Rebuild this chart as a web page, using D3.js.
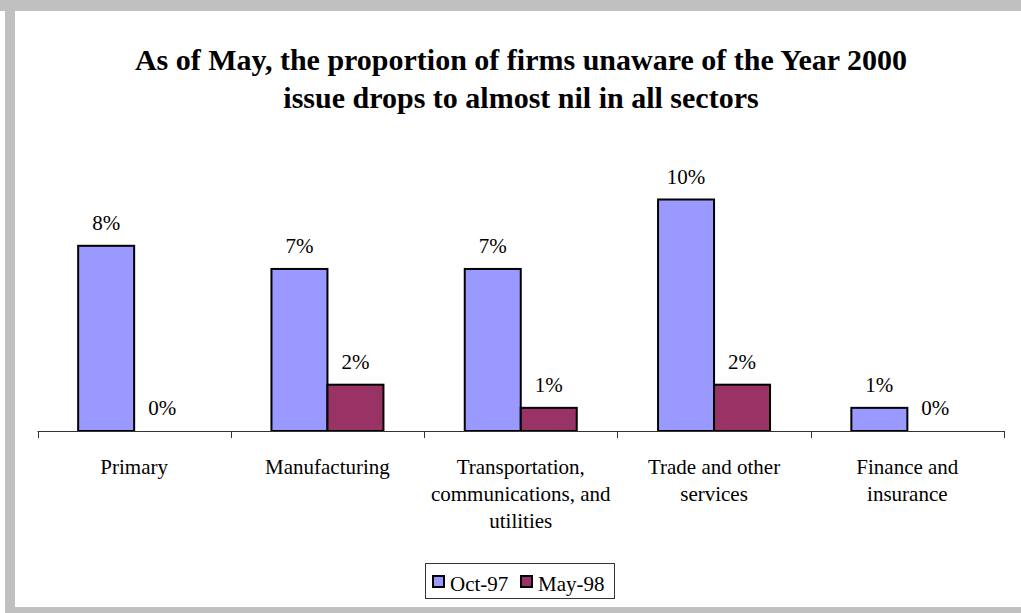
<!DOCTYPE html>
<html>
<head>
<meta charset="utf-8">
<script src="https://cdn.jsdelivr.net/npm/d3@7/dist/d3.min.js"></script>
<style>
  html, body { margin: 0; padding: 0; background: #ffffff; }
  svg { display: block; }
  text { font-family: "Liberation Serif", "Times New Roman", Times, serif; fill: #000; }
</style>
</head>
<body>
<svg id="chart" width="1021" height="613"></svg>
<script>
// Sectors and survey values (% of firms unaware of the Year 2000 issue)
const categories = [
  ["Primary"],
  ["Manufacturing"],
  ["Transportation,", "communications, and", "utilities"],
  ["Trade and other", "services"],
  ["Finance and", "insurance"]
];
const seriesNames = ["Oct-97", "May-98"];
const oct97 = [8, 7, 7, 10, 1];
const may98 = [0, 2, 1, 2, 0];
const seriesColors = ["#9999ff", "#993366"];
const titleLines = [
  "As of May, the proportion of firms unaware of the Year 2000",
  "issue drops to almost nil in all sectors"
];

const W = 1021, H = 613;
const svg = d3.select("#chart");

// grey frame around the chart area
svg.append("rect").attr("x", 0).attr("y", 0).attr("width", W).attr("height", 11).attr("fill", "#c0c0c0");
svg.append("rect").attr("x", 5).attr("y", 0).attr("width", 10).attr("height", H).attr("fill", "#c0c0c0");
svg.append("rect").attr("x", 5).attr("y", 607).attr("width", W - 5).attr("height", 6).attr("fill", "#c0c0c0");

// title
svg.append("g").selectAll("text").data(titleLines).join("text")
  .attr("x", 521)
  .attr("y", (d, i) => 70 + i * 38)
  .attr("text-anchor", "middle")
  .attr("font-weight", "bold")
  .attr("font-size", 30)
  .text(d => d);

// scales
const idx = d3.range(categories.length);
const x0 = d3.scaleBand().domain(idx).range([37.5, 1004]).paddingInner(0).paddingOuter(0);
const x1 = d3.scaleBand().domain(seriesNames).range([0, x0.bandwidth()]).paddingInner(0).paddingOuter(0.726);
const y = d3.scaleLinear().domain([0, 12]).range([431, 431 - 12 * 23.15]);

const rows = idx.map(i => ({ i, values: [oct97[i], may98[i]] }));

// bars
const groups = svg.append("g").selectAll("g").data(rows).join("g")
  .attr("transform", d => `translate(${x0(d.i)},0)`);

groups.selectAll("rect")
  .data(d => d.values.map((v, s) => ({ v, s })).filter(e => e.v > 0))
  .join("rect")
  .attr("x", e => x1(seriesNames[e.s]))
  .attr("y", e => y(e.v))
  .attr("width", x1.bandwidth())
  .attr("height", e => y(0) - y(e.v))
  .attr("fill", e => seriesColors[e.s])
  .attr("stroke", "#000")
  .attr("stroke-width", 2);

// value labels
groups.selectAll("text.val")
  .data(d => d.values.map((v, s) => ({ v, s })))
  .join("text")
  .attr("class", "val")
  .attr("x", e => x1(seriesNames[e.s]) + x1.bandwidth() / 2)
  .attr("y", e => y(e.v) - 16)
  .attr("text-anchor", "middle")
  .attr("font-size", 21)
  .text(e => e.v + "%");

// category axis with ticks at band boundaries
const axisG = svg.append("g");
axisG.append("line")
  .attr("x1", x0.range()[0]).attr("x2", x0.range()[1])
  .attr("y1", y(0) + 0.5).attr("y2", y(0) + 0.5)
  .attr("stroke", "#333").attr("stroke-width", 1);
const bounds = idx.map(i => x0(i)).concat([x0.range()[1]]);
axisG.selectAll("line.tick").data(bounds).join("line")
  .attr("class", "tick")
  .attr("x1", d => Math.round(d) + 0.5).attr("x2", d => Math.round(d) + 0.5)
  .attr("y1", y(0)).attr("y2", y(0) + 7)
  .attr("stroke", "#333").attr("stroke-width", 1);

axisG.selectAll("text.cat").data(idx).join("text")
  .attr("class", "cat")
  .attr("x", i => x0(i) + x0.bandwidth() / 2)
  .attr("y", 474)
  .attr("text-anchor", "middle")
  .attr("font-size", 21)
  .selectAll("tspan").data(i => categories[i]).join("tspan")
  .attr("x", function () { return d3.select(this.parentNode).attr("x"); })
  .attr("dy", (d, k) => k === 0 ? 0 : 27)
  .text(d => d);

// legend
const lg = svg.append("g");
lg.append("rect").attr("x", 425.5).attr("y", 563.5).attr("width", 189).attr("height", 35)
  .attr("fill", "#fff").attr("stroke", "#333").attr("stroke-width", 1);
const legendX = [433, 521];
seriesNames.forEach((name, s) => {
  lg.append("rect").attr("x", legendX[s]).attr("y", 576).attr("width", 11).attr("height", 11)
    .attr("fill", seriesColors[s]).attr("stroke", "#000").attr("stroke-width", 2);
  lg.append("text").attr("x", legendX[s] + 17).attr("y", 591)
    .attr("font-size", 21).text(name);
});
</script>
</body>
</html>
